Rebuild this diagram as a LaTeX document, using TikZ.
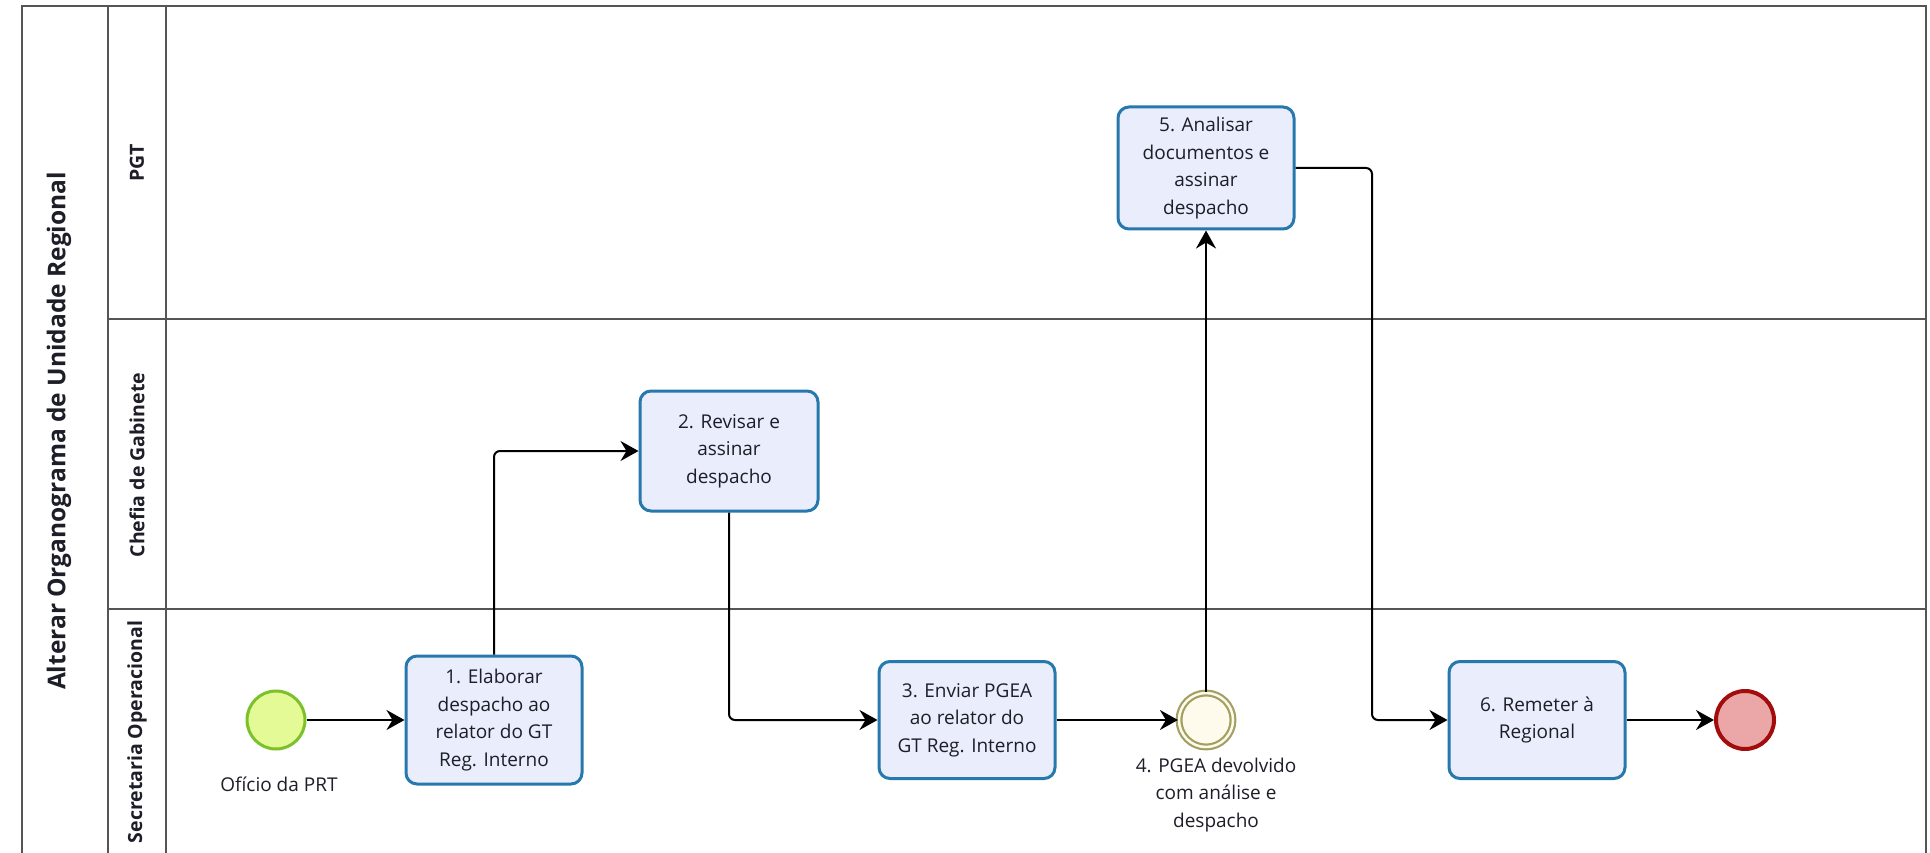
\documentclass[tikz,border=0pt]{standalone}
\usepackage{fontspec}
\setmainfont{Open Sans}
\usetikzlibrary{arrows.meta}
\definecolor{taskfill}{HTML}{E9EDFC}
\definecolor{taskborder}{HTML}{2678AD}
\definecolor{startfill}{HTML}{E4FA96}
\definecolor{startborder}{HTML}{7CC12A}
\definecolor{endfill}{HTML}{EBA7A7}
\definecolor{endborder}{HTML}{A30C0C}
\definecolor{midfill}{HTML}{FFFBEC}
\definecolor{midborder}{HTML}{A39F62}
\definecolor{lanecol}{HTML}{555555}
\definecolor{textcol}{HTML}{1E1E28}
\tikzset{
  lane/.style={draw=lanecol, line width=1.8pt},
  task/.style={draw=taskborder, fill=taskfill, line width=3pt, rounded corners=11pt,
    minimum width=176pt, minimum height=120pt, align=center, inner sep=0pt,
    text=textcol, font=\fontsize{19}{27.5}\selectfont},
  evstart/.style={circle, draw=startborder, fill=startfill, line width=3pt, minimum size=58pt, inner sep=0pt},
  evend/.style={circle, draw=endborder, fill=endfill, line width=4pt, minimum size=58pt, inner sep=0pt},
  evmid/.style={circle, draw=midborder, fill=midfill, line width=2.2pt, double=midfill, double distance=2.5pt, minimum size=54pt, inner sep=0pt},
  lbl/.style={align=center, text=textcol, font=\fontsize{19}{27.5}\selectfont},
  lanename/.style={rotate=90, font=\bfseries\fontsize{19.5}{23}\selectfont, text=textcol},
  flow/.style={draw=black, line width=2pt, rounded corners=6pt, -{Stealth[length=18pt, width=20pt, inset=6pt]}}
}
\begin{document}
\begin{tikzpicture}[x=1pt, y=-1pt]
\useasboundingbox (0,0) rectangle (1930,853);
\fill[white] (0,0) rectangle (1930,853);
% pool and lanes
\draw[lane] (22,6) rectangle (1926,880);
\draw[lane] (108,6) -- (108,880);
\draw[lane] (166,6) -- (166,880);
\draw[lane] (108,319) -- (1926,319);
\draw[lane] (108,609) -- (1926,609);
\node[rotate=90, font=\bfseries\fontsize{24.5}{28}\selectfont, text=textcol] (pool) at (59,431) {Alterar Organograma de Unidade Regional};
\node[lanename] (lpgt) at (137,163) {PGT};
\node[lanename] (lchefia) at (137,465) {Chefia de Gabinete};
\node[lanename] (lsec) at (137,732) {Secretaria Operacional};
% nodes
\node[evstart] (start) at (276,720) {};
\node[lbl] (startlbl) at (279,784) {Ofício da PRT};
\node[task, minimum height=128pt] (t1) at (494,720) {1. Elaborar\\despacho ao\\relator do GT\\Reg. Interno};
\node[task, minimum width=178pt] (t2) at (729,451) {2. Revisar e\\assinar\\despacho};
\node[task, minimum height=117pt] (t3) at (967,720) {3. Enviar PGEA\\ao relator do\\GT Reg. Interno};
\node[evmid] (e4) at (1206,720) {};
\node[lbl] (e4lbl) at (1216,795) {4. PGEA devolvido\\com análise e\\despacho};
\node[task, minimum height=122pt] (t5) at (1206,168) {5. Analisar\\documentos e\\assinar\\despacho};
\node[task, minimum height=117pt] (t6) at (1537,720) {6. Remeter à\\Regional};
\node[evend] (end) at (1745,720) {};
\coordinate (bend) at (1372,168);
% flows
\draw[flow] (start) -- (t1);
\draw[flow] (t1.north) |- (t2.west);
\draw[flow] (t2.south) |- (t3.west);
\draw[flow] (t3) -- (e4);
\draw[flow] (e4.north) -- (t5.south);
\draw[flow] (t5.east) -- (bend) |- (t6.west);
\draw[flow] (t6) -- (end);
\end{tikzpicture}
\end{document}
